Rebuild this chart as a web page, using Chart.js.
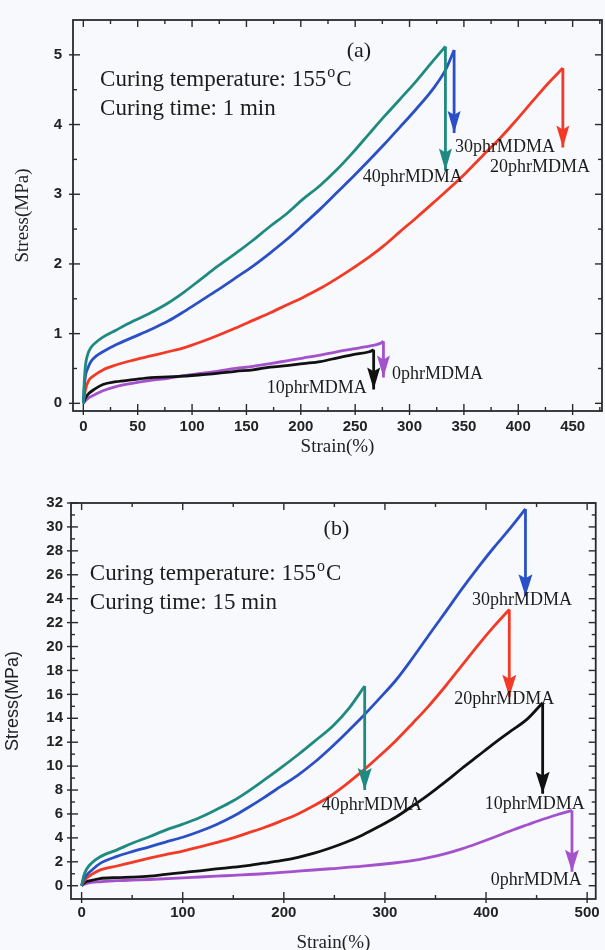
<!DOCTYPE html>
<html><head><meta charset="utf-8">
<script src="https://cdn.jsdelivr.net/npm/chart.js@4.4.1/dist/chart.umd.min.js"></script>
<style>
html,body{margin:0;padding:0;background:#f8f9fc;}
#wrap{position:relative;width:605px;height:950px;overflow:hidden;background:#f8f9fc;}
.cv{position:absolute;left:0;}
</style></head><body>
<div id="wrap">
<canvas class="cv" id="ca" width="605" height="470" style="top:0"></canvas>
<canvas class="cv" id="cb" width="605" height="490" style="top:470px"></canvas>
</div>
<script>
// ---------- Panel (a): curing time 1 min ----------
const a_series = ['40phrMDMA','30phrMDMA','20phrMDMA','10phrMDMA','0phrMDMA'];
const a_strain_40 = [0,1,2,4,7,12,18,30,46,62,78,93,108,123,140,156,171,187,202,218,233,248,263,277,291,306,322,333];
const a_stress_40 = [0,0.35,0.55,0.7,0.8,0.88,0.95,1.05,1.18,1.3,1.44,1.6,1.78,1.96,2.15,2.34,2.53,2.72,2.93,3.13,3.35,3.6,3.87,4.12,4.36,4.62,4.92,5.12];
const a_strain_30 = [0,1,2,4,7,12,18,30,46,62,78,93,108,123,140,156,172,187,202,218,233,248,263,277,291,306,322,333,341];
const a_stress_30 = [0,0.25,0.4,0.5,0.6,0.68,0.74,0.84,0.95,1.06,1.18,1.32,1.47,1.62,1.8,1.97,2.16,2.35,2.56,2.79,3.02,3.25,3.49,3.72,3.96,4.22,4.52,4.78,5.07];
const a_strain_20 = [0,2,5,10,18,30,46,62,78,93,108,123,140,156,172,187,202,218,233,248,263,277,291,306,322,337,352,367,383,398,414,428,441];
const a_stress_20 = [0,0.2,0.33,0.4,0.48,0.55,0.62,0.68,0.74,0.8,0.88,0.97,1.08,1.19,1.3,1.41,1.52,1.65,1.79,1.94,2.1,2.27,2.46,2.66,2.88,3.09,3.31,3.55,3.8,4.06,4.35,4.6,4.81];
const a_strain_10 = [0,2,5,10,18,30,46,62,78,93,108,123,140,156,172,187,202,218,233,248,263,267];
const a_stress_10 = [0,0.08,0.14,0.2,0.27,0.31,0.34,0.37,0.38,0.39,0.41,0.43,0.46,0.48,0.52,0.54,0.57,0.6,0.65,0.7,0.74,0.77];
const a_strain_0 = [0,2,5,10,18,30,46,62,78,93,108,123,140,156,172,187,202,218,233,248,263,273,276];
const a_stress_0 = [0,0.04,0.08,0.12,0.18,0.24,0.29,0.33,0.36,0.4,0.43,0.46,0.5,0.53,0.57,0.61,0.65,0.69,0.74,0.78,0.82,0.86,0.89];
// stress at the tip of each break arrow (same order as a_series)
const a_breakTip = [3.34,3.88,3.67,0.2,0.37];
const a_xTicks = [0,50,100,150,200,250,300,350,400,450];
const a_xMinor = [25,75,125,175,225,275,325,375,425,475];
const a_yTicks = [0,1,2,3,4,5];
const a_yMinor = [0.5,1.5,2.5,3.5,4.5];

// ---------- Panel (b): curing time 15 min ----------
const b_series = ['40phrMDMA','30phrMDMA','20phrMDMA','10phrMDMA','0phrMDMA'];
const b_strain_40 = [0,2,5,10,18,35,50,67,83,100,117,133,150,164,180,197,214,230,249,265,280];
const b_stress_40 = [0,0.8,1.4,1.9,2.4,3.0,3.55,4.1,4.65,5.15,5.7,6.35,7.1,7.85,8.8,9.85,10.95,12.05,13.4,14.9,16.7];
const b_strain_30 = [0,2,5,10,18,35,50,67,83,100,117,133,150,164,180,197,214,230,246,262,278,294,311,327,343,360,376,392,408,424,439];
const b_stress_30 = [0,0.5,0.9,1.3,1.85,2.45,2.85,3.25,3.65,4.05,4.55,5.1,5.8,6.5,7.35,8.3,9.25,10.3,11.5,12.8,14.15,15.6,17.2,19.0,20.9,22.9,24.8,26.6,28.3,29.9,31.5];
const b_strain_20 = [0,2,5,10,18,35,50,67,83,100,117,133,150,164,180,197,214,230,246,262,278,294,311,327,343,360,376,392,408,423];
const b_stress_20 = [0,0.35,0.65,0.95,1.3,1.65,1.95,2.3,2.6,2.9,3.25,3.6,4.0,4.4,4.85,5.4,6.0,6.7,7.5,8.5,9.6,10.8,12.15,13.55,15.0,16.7,18.4,20.1,21.7,23.1];
const b_strain_10 = [0,2,5,10,18,35,50,67,83,100,117,133,150,164,180,197,214,230,246,262,278,294,311,327,343,360,376,392,408,424,441,456];
const b_stress_10 = [0,0.2,0.35,0.45,0.6,0.68,0.72,0.8,0.95,1.1,1.25,1.4,1.55,1.68,1.88,2.1,2.38,2.72,3.15,3.65,4.25,4.95,5.75,6.65,7.6,8.7,9.8,10.85,11.9,12.9,13.95,15.3];
const b_strain_0 = [0,2,5,10,18,35,50,67,100,117,133,150,180,214,246,278,311,327,343,360,376,392,408,424,441,457,473,485];
const b_stress_0 = [0,0.1,0.2,0.28,0.33,0.42,0.47,0.52,0.65,0.73,0.8,0.87,1.0,1.22,1.42,1.63,1.92,2.1,2.35,2.68,3.08,3.55,4.05,4.58,5.1,5.58,6.0,6.3];
const b_breakTip = [8.0,24.2,15.8,7.7,1.17];
const b_xTicks = [0,100,200,300,400,500];
const b_xMinor = [50,150,250,350,450];
const b_yTicks = [0,2,4,6,8,10,12,14,16,18,20,22,24,26,28,30,32];
const b_yMinor = [1,3,5,7,9,11,13,15,17,19,21,23,25,27,29,31];

const colors = ['#1f8a80','#2b50c6','#f23a26','#111111','#a352cc'];

const frameTicks = {
  id: 'frameTicks',
  afterDatasetsDraw(chart, args, o) {
    const {ctx, chartArea: ca, scales: {x, y}} = chart;
    ctx.save();
    ctx.strokeStyle = '#2a2a2a';
    ctx.lineWidth = 1.8;
    ctx.strokeRect(ca.left, ca.top, ca.right - ca.left, ca.bottom - ca.top);
    ctx.lineWidth = 1.4;
    const ln = (x1, y1, x2, y2) => { ctx.beginPath(); ctx.moveTo(x1, y1); ctx.lineTo(x2, y2); ctx.stroke(); };
    o.xMajor.forEach(v => { const p = x.getPixelForValue(v); ln(p, ca.bottom + 4, p, ca.bottom - 7); ln(p, ca.top, p, ca.top + 7); });
    o.xMinor.forEach(v => { const p = x.getPixelForValue(v); if (p < ca.right - 1) { ln(p, ca.bottom, p, ca.bottom - 4); ln(p, ca.top, p, ca.top + 4); } });
    o.yMajor.forEach(v => { const p = y.getPixelForValue(v); ln(ca.left - 4, p, ca.left + 7, p); ln(ca.right, p, ca.right - 7, p); });
    o.yMinor.forEach(v => { const p = y.getPixelForValue(v); ln(ca.left, p, ca.left + 4, p); ln(ca.right, p, ca.right - 4, p); });
    ctx.restore();
  }
};

const annot = {
  id: 'annot',
  afterDatasetsDraw(chart, args, o) {
    const {ctx, scales: {x, y}} = chart;
    ctx.save();
    chart.data.datasets.forEach(ds => {
      if (!ds.shaft) return;
      const tip = ds.data[ds.data.length - 1];
      const px = x.getPixelForValue(tip.x), py = y.getPixelForValue(tip.y);
      ctx.fillStyle = ds.borderColor;
      ctx.beginPath();
      ctx.moveTo(px, py);
      ctx.lineTo(px - o.headW / 2, py - o.headL);
      ctx.lineTo(px, py - o.headL * 0.82);
      ctx.lineTo(px + o.headW / 2, py - o.headL);
      ctx.closePath();
      ctx.fill();
    });
    ctx.fillStyle = '#1c1c1c';
    ctx.textBaseline = 'middle';
    ctx.textAlign = 'left';
    ctx.font = '18px "Liberation Serif"';
    o.labels.forEach(l => ctx.fillText(l.text, x.getPixelForValue(l.x), y.getPixelForValue(l.y)));
    ctx.font = '22px "Liberation Serif"';
    ctx.textAlign = 'center';
    ctx.fillText(o.tag.text, x.getPixelForValue(o.tag.x), y.getPixelForValue(o.tag.y));
    ctx.textAlign = 'left';
    ctx.textBaseline = 'alphabetic';
    const cx = x.getPixelForValue(o.cure.x), cy1 = y.getPixelForValue(o.cure.y1), cy2 = y.getPixelForValue(o.cure.y2);
    ctx.font = '23px "Liberation Serif"';
    const t1 = 'Curing temperature: 155';
    ctx.fillText(t1, cx, cy1);
    const w1 = ctx.measureText(t1).width;
    ctx.font = '16px "Liberation Serif"';
    ctx.fillText('o', cx + w1 + 1, cy1 - 9);
    const w2 = ctx.measureText('o').width;
    ctx.font = '23px "Liberation Serif"';
    ctx.fillText('C', cx + w1 + w2 + 2, cy1);
    ctx.fillText(o.cure.line2, cx, cy2);
    ctx.restore();
  }
};

function buildChart(id, cfg) {
  const datasets = [];
  cfg.series.forEach((name, i) => {
    const st = cfg.strains[i], ss = cfg.stresses[i];
    const last = st.length - 1;
    datasets.push({
      label: name,
      data: st.map((s, k) => ({x: s, y: ss[k]})),
      borderColor: colors[i], backgroundColor: colors[i],
      borderWidth: 2.8, pointRadius: 0, showLine: true,
      cubicInterpolationMode: 'monotone', fill: false
    });
    datasets.push({
      label: name + ' break',
      shaft: true,
      data: [{x: st[last], y: ss[last]}, {x: st[last], y: cfg.tips[i]}],
      borderColor: colors[i], backgroundColor: colors[i],
      borderWidth: 2.8, pointRadius: 0, showLine: true, tension: 0, fill: false
    });
  });
  return new Chart(document.getElementById(id), {
    type: 'scatter',
    data: {datasets},
    options: {
      responsive: false,
      animation: false,
      devicePixelRatio: 1,
      layout: {padding: {left: 0, right: 3, top: cfg.padTop, bottom: 0}},
      plugins: {
        legend: {display: false}, tooltip: {enabled: false},
        frameTicks: {xMajor: cfg.xTicks, xMinor: cfg.xMinor, yMajor: cfg.yTicks, yMinor: cfg.yMinor},
        annot: {labels: cfg.labels, tag: cfg.tag, cure: cfg.cure, headW: cfg.headW, headL: cfg.headL}
      },
      scales: {
        x: {
          type: 'linear', min: cfg.xMin, max: cfg.xMax,
          afterBuildTicks: s => { s.ticks = cfg.xTicks.map(v => ({value: v})); },
          afterFit: s => { s.height = cfg.xHeight; },
          grid: {display: false, drawTicks: false}, border: {display: false},
          ticks: {padding: cfg.xPad, color: '#222', font: {family: 'Liberation Sans', size: 15, weight: 'bold'}, maxRotation: 0, autoSkip: false},
          title: {display: true, text: 'Strain(%)', color: '#222', font: {family: 'Liberation Serif', size: 19}, padding: {top: 0, bottom: cfg.xTitlePad}}
        },
        y: {
          type: 'linear', min: cfg.yMin, max: cfg.yMax,
          afterBuildTicks: s => { s.ticks = cfg.yTicks.map(v => ({value: v})); },
          afterFit: s => { s.width = cfg.yWidth; },
          grid: {display: false, drawTicks: false}, border: {display: false},
          ticks: {padding: cfg.yPad, color: '#222', font: {family: 'Liberation Sans', size: 15, weight: 'bold'}, autoSkip: false},
          title: {display: true, text: 'Stress(MPa)', color: '#222', font: {family: cfg.yTitleFont, size: cfg.yTitleSize}, padding: {top: cfg.yTitlePad, bottom: 0}}
        }
      }
    },
    plugins: [frameTicks, annot]
  });
}

buildChart('ca', {
  series: a_series,
  strains: [a_strain_40, a_strain_30, a_strain_20, a_strain_10, a_strain_0],
  stresses: [a_stress_40, a_stress_30, a_stress_20, a_stress_10, a_stress_0],
  tips: a_breakTip,
  xTicks: a_xTicks, xMinor: a_xMinor, yTicks: a_yTicks, yMinor: a_yMinor,
  xMin: -9.5, xMax: 477, yMin: -0.11, yMax: 5.5,
  padTop: 16, xHeight: 59, yWidth: 73, xPad: 7, yPad: 11, xTitlePad: 11.6,
  yTitleFont: 'Liberation Serif', yTitleSize: 19, yTitlePad: 11.6,
  headW: 13, headL: 22,
  labels: [
    {text: '30phrMDMA', x: 341.7, y: 3.67},
    {text: '40phrMDMA', x: 257, y: 3.24},
    {text: '20phrMDMA', x: 374, y: 3.39},
    {text: '10phrMDMA', x: 168.7, y: 0.21},
    {text: '0phrMDMA', x: 283.8, y: 0.42}
  ],
  tag: {text: '(a)', x: 253.5, y: 5.05},
  cure: {x: 15.4, y1: 4.55, y2: 4.14, line2: 'Curing time: 1 min'}
});

buildChart('cb', {
  series: b_series,
  strains: [b_strain_40, b_strain_30, b_strain_20, b_strain_10, b_strain_0],
  stresses: [b_stress_40, b_stress_30, b_stress_20, b_stress_10, b_stress_0],
  tips: b_breakTip,
  xTicks: b_xTicks, xMinor: b_xMinor, yTicks: b_yTicks, yMinor: b_yMinor,
  xMin: -10.5, xMax: 508.5, yMin: -1.11, yMax: 32,
  padTop: 33, xHeight: 61, yWidth: 71, xPad: 5.3, yPad: 8, xTitlePad: 5.6,
  yTitleFont: 'Liberation Sans', yTitleSize: 18, yTitlePad: 2,
  headW: 14, headL: 22,
  labels: [
    {text: '30phrMDMA', x: 386, y: 23.9},
    {text: '20phrMDMA', x: 368.5, y: 15.55},
    {text: '40phrMDMA', x: 237.6, y: 6.76},
    {text: '10phrMDMA', x: 398.7, y: 6.84},
    {text: '0phrMDMA', x: 404.6, y: 0.48}
  ],
  tag: {text: '(b)', x: 252, y: 29.8},
  cure: {x: 8.1, y1: 25.6, y2: 23.1, line2: 'Curing time: 15 min'}
});
</script>
</body></html>
